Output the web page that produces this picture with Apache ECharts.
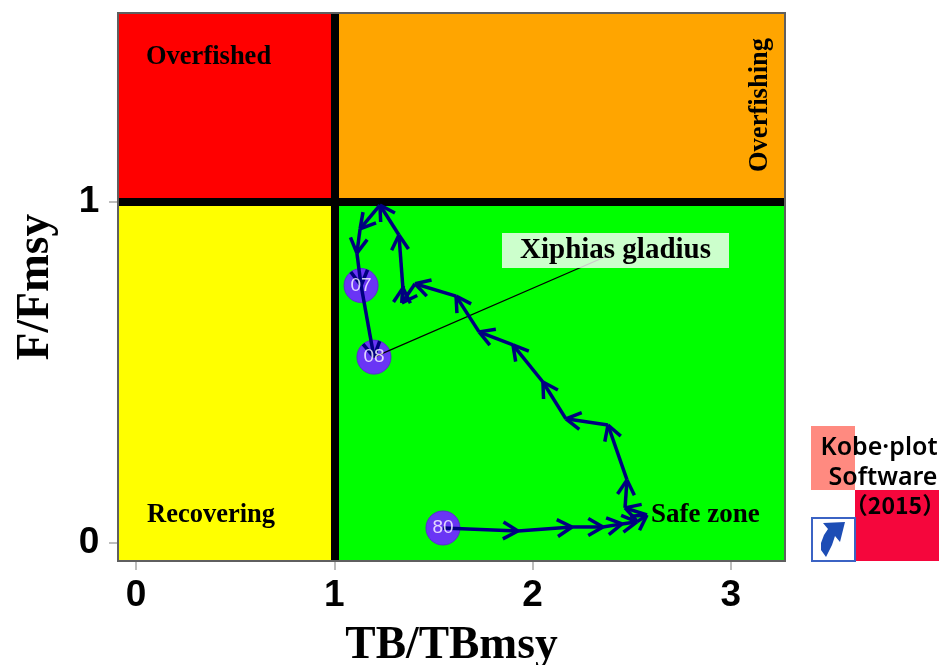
<!DOCTYPE html>
<html><head><meta charset="utf-8">
<style>html,body{margin:0;padding:0;background:#fff}#c{width:939px;height:665px}</style>
<script src="https://cdn.jsdelivr.net/npm/echarts@6/dist/echarts.min.js"></script>
</head><body><div id="c"></div>
<script>
const tbValues = [1.548,1.926,2.199,2.355,2.451,2.526,2.577,2.466,2.476,2.380,2.168,2.052,1.901,1.730,1.614,1.407,1.341,1.346,1.326,1.230,1.130,1.114,1.135,1.200];
const fValues  = [0.044,0.035,0.047,0.047,0.056,0.062,0.082,0.103,0.185,0.346,0.364,0.472,0.581,0.619,0.724,0.760,0.704,0.748,0.903,0.991,0.921,0.850,0.755,0.545];
const yearLabels = ['80','07','08'];
const yearPointIndex = [0,22,23];
const xTicks = [0,1,2,3];
const yTicks = [0,1];
const xRange = [-0.0908,3.2728];
const yRange = [-0.0528,1.554];
const refPoint = [1,1];
const stockName = 'Xiphias gladius';
const labelAnchor = [2.39,0.845];
const zoneNames = ['Overfished','Overfishing','Recovering','Safe zone'];

const chart = echarts.init(document.getElementById('c'),null,{renderer:'canvas'});
const serif = '"Liberation Serif","Times New Roman",serif';
const segs = tbValues.slice(1).map((x,i)=>[tbValues[i],fValues[i],x,fValues[i+1]]);
const yearPts = yearPointIndex.map((k,i)=>({value:[tbValues[k],fValues[k]],name:yearLabels[i]}));

function axisCommon(ticks,m){return {
  axisLine:{show:true,onZero:false,lineStyle:{color:'#5f5f5f',width:2}},
  axisTick:{show:true,length:9,customValues:ticks,lineStyle:{color:'#bdbdbd',width:2}},
  axisLabel:{customValues:ticks,color:'#000',fontFamily:'"Liberation Sans",Arial,sans-serif',fontSize:37,fontWeight:'bold',margin:m},
  splitLine:{show:false}
};}
function zone(c,x0,y0,x1,y1){return [{xAxis:x0,yAxis:y0,itemStyle:{color:c,opacity:1}},{xAxis:x1,yAxis:y1}];}
const yAxisBase = axisCommon(yTicks,29);
yAxisBase.axisLabel.align='center';

chart.setOption({
  animation:false,
  backgroundColor:'#fff',
  grid:{left:118,top:13,width:667,height:548,show:true,backgroundColor:'transparent',borderColor:'#5f5f5f',borderWidth:2,z:8,outerBoundsMode:'none',containLabel:false},
  xAxis:Object.assign({type:'value',min:xRange[0],max:xRange[1],name:'TB/TBmsy',nameLocation:'middle',nameGap:62},axisCommon(xTicks,16),
    {nameTextStyle:{fontFamily:serif,fontWeight:'bold',fontSize:45.5,color:'#000'}}),
  yAxis:Object.assign({type:'value',min:yRange[0],max:yRange[1],name:'F/Fmsy',nameLocation:'middle',nameGap:59},yAxisBase,
    {nameTextStyle:{fontFamily:serif,fontWeight:'bold',fontSize:45.5,color:'#000'}}),
  series:[
    {type:'line',data:[],z:1,silent:true,
     markArea:{silent:true,data:[
       zone('#ff0000',xRange[0],refPoint[1],refPoint[0],yRange[1]),
       zone('#ffa500',refPoint[0],refPoint[1],xRange[1],yRange[1]),
       zone('#ffff00',xRange[0],yRange[0],refPoint[0],refPoint[1]),
       zone('#00ff00',refPoint[0],yRange[0],xRange[1],refPoint[1])
     ]},
     markLine:{silent:true,symbol:'none',label:{show:false},lineStyle:{color:'#000',width:8,type:'solid'},
       data:[{xAxis:refPoint[0]},{yAxis:refPoint[1]}]}},
    {type:'scatter',z:3,symbol:'circle',symbolSize:34,silent:true,
     itemStyle:{color:'#6a35f5',borderColor:'#5a2bd0',borderWidth:1,opacity:1},data:yearPts},
    {type:'line',z:4,silent:true,showSymbol:false,lineStyle:{color:'#000',width:1.2},
     data:[[tbValues[23],fValues[23]],labelAnchor]},
    {type:'custom',z:5,silent:true,clip:false,data:segs,encode:{x:[0,2],y:[1,3]},
     renderItem:function(p,api){
       const a=api.coord([api.value(0),api.value(1)]),b=api.coord([api.value(2),api.value(3)]);
       const ang=Math.atan2(b[1]-a[1],b[0]-a[0]),L=17,w=0.52;
       const st={stroke:'#000080',lineWidth:3.5,fill:null};
       const ln=(p0,p1)=>({type:'line',shape:{x1:p0[0],y1:p0[1],x2:p1[0],y2:p1[1]},style:st});
       const barb=s=>[b[0]-L*Math.cos(ang+s*w),b[1]-L*Math.sin(ang+s*w)];
       return {type:'group',children:[ln(a,b),ln(b,barb(1)),ln(b,barb(-1))]};
     }},
    {type:'scatter',z:6,symbol:'circle',symbolSize:1,silent:true,itemStyle:{color:'rgba(0,0,0,0)'},data:yearPts,
     label:{show:true,position:'inside',formatter:'{b}',color:'#fff',fontFamily:'"Liberation Sans Narrow","Liberation Sans",sans-serif',fontSize:19}}
  ],
  graphic:[
    {type:'rect',z:20,shape:{x:502,y:233,width:227,height:35},style:{fill:'rgba(255,255,255,0.8)'}},
    {type:'text',z:21,x:615.5,y:251,style:{text:stockName,font:'bold 29px '+serif,fill:'#000',align:'center',verticalAlign:'middle'}},
    {type:'text',z:21,x:146,y:57,style:{text:zoneNames[0],font:'bold 26.5px '+serif,fill:'#000',verticalAlign:'middle'}},
    {type:'text',z:21,x:760,y:105,rotation:Math.PI/2,style:{text:zoneNames[1],font:'bold 26.5px '+serif,fill:'#000',align:'center',verticalAlign:'middle'}},
    {type:'text',z:21,x:147,y:515,style:{text:zoneNames[2],font:'bold 26.5px '+serif,fill:'#000',verticalAlign:'middle'}},
    {type:'text',z:21,x:651,y:515,style:{text:zoneNames[3],font:'bold 27px '+serif,fill:'#000',verticalAlign:'middle'}},
    {type:'rect',z:20,shape:{x:811,y:426,width:44,height:64},style:{fill:'#ff8a80'}},
    {type:'rect',z:20,shape:{x:855,y:490,width:84,height:71},style:{fill:'#f5063c'}},
    {type:'rect',z:20,shape:{x:812,y:518,width:43,height:43},style:{fill:'#fff',stroke:'#3b63c4',lineWidth:2}},
    {type:'polygon',z:21,shape:{points:[[823,523],[845,522],[840,542],[835,536],[832,545],[826,557],[821,550],[821,543],[824,535],[828,529]]},style:{fill:'#1d4db5'}},
    {type:'text',z:21,x:879,y:448,style:{text:'Kobe\u00B7plot',font:'600 25px "Noto Sans",sans-serif',fill:'#000',align:'center',verticalAlign:'middle'}},
    {type:'text',z:21,x:883,y:478,style:{text:'Software',font:'600 25px "Noto Sans",sans-serif',fill:'#000',align:'center',verticalAlign:'middle'}},
    {type:'text',z:21,x:895,y:505,style:{text:'\uFF082015\uFF09',font:'bold 23px "Noto Sans CJK JP",sans-serif',fill:'#000',align:'center',verticalAlign:'middle'}}
  ]
});
</script></body></html>
